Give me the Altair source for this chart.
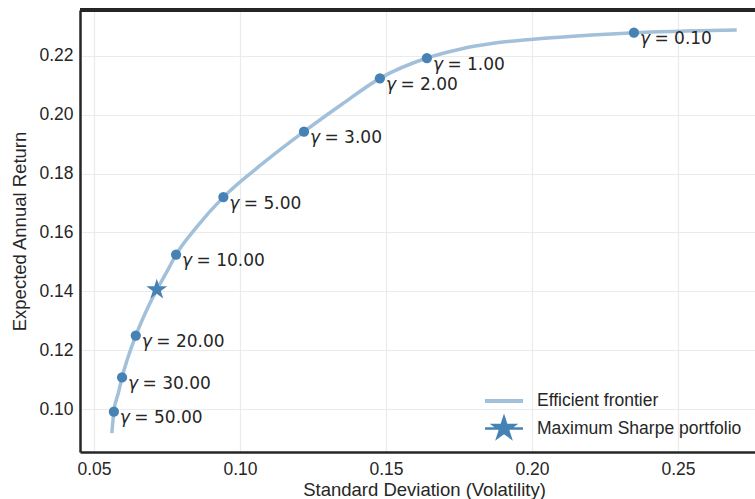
import altair as alt
import pandas as pd

# ---- data ----
frontier_sigma = [0.0561, 0.0568, 0.0583, 0.0596, 0.0643, 0.0675, 0.0715, 0.0749, 0.0781,
                  0.0852, 0.0943, 0.1080, 0.1219, 0.1349, 0.1479, 0.1640, 0.1753,
                  0.1867, 0.2004, 0.2153, 0.2349, 0.2530, 0.2701]
frontier_return = [0.0919, 0.0992, 0.1054, 0.1108, 0.1250, 0.1325, 0.1406, 0.1466, 0.1525,
                   0.1619, 0.1720, 0.1836, 0.1942, 0.2035, 0.2123, 0.2192, 0.2222,
                   0.2242, 0.2256, 0.2267, 0.2278, 0.2284, 0.2287]

gamma_values = ["50.00", "30.00", "20.00", "10.00", "5.00", "3.00", "2.00", "1.00", "0.10"]
gamma_sigma = [0.0568, 0.0596, 0.0643, 0.0781, 0.0943, 0.1219, 0.1479, 0.1640, 0.2349]
gamma_return = [0.0992, 0.1108, 0.1250, 0.1525, 0.1720, 0.1942, 0.2123, 0.2192, 0.2278]

sharpe_sigma = [0.0715]
sharpe_return = [0.1406]

legend_names = ["Efficient frontier", "Maximum Sharpe portfolio"]
x_ticks = [0.05, 0.10, 0.15, 0.20, 0.25]
y_ticks = [0.10, 0.12, 0.14, 0.16, 0.18, 0.20, 0.22]

# ---- style ----
LIGHT = "#a2c0d9"
STEEL = "#4682b4"
INK = "#262626"
STAR = ("M0,-1L0.2245,-0.309L0.951,-0.309L0.3633,0.118L0.588,0.809L0,0.382"
        "L-0.588,0.809L-0.3633,0.118L-0.951,-0.309L-0.2245,-0.309Z")
LINE_SYM = "M-1.73,0L1.73,0"
STAR_LINE_SYM = STAR + "M-1.73,0L1.73,0"

W, H = 675, 442

frontier_df = pd.DataFrame({"sigma": frontier_sigma, "ret": frontier_return})
gamma_df = pd.DataFrame({
    "sigma": gamma_sigma,
    "ret": gamma_return,
    "sym": ["γ"] * len(gamma_values),
    "rest": ["= " + g for g in gamma_values],
})
sharpe_df = pd.DataFrame({"sigma": sharpe_sigma, "ret": sharpe_return,
                          "series": [legend_names[1]]})

xs = alt.Scale(domain=[0.0452, 0.0452 + W / 2920], nice=False, zero=False)
ys = alt.Scale(domain=[0.0855, 0.2355], nice=False, zero=False)

x_axis = alt.Axis(values=x_ticks, format=".2f", title="Standard Deviation (Volatility)",
                  titleX=344)
y_axis = alt.Axis(values=y_ticks, format=".2f", title="Expected Annual Return")

X = alt.X("sigma:Q", scale=xs, axis=x_axis)
Y = alt.Y("ret:Q", scale=ys, axis=y_axis)

line = alt.Chart(frontier_df).mark_line(color=LIGHT, strokeWidth=3.5,
                                        interpolate="monotone").encode(x=X, y=Y)

dots = alt.Chart(gamma_df).mark_circle(size=105, color=STEEL, opacity=1).encode(x=X, y=Y)

labels_sym = alt.Chart(gamma_df).mark_text(
    align="left", baseline="alphabetic", dx=6, dy=11.5,
    font="DejaVu Sans", fontSize=17, fontStyle="italic", color=INK
).encode(x=X, y=Y, text="sym:N")

labels_rest = alt.Chart(gamma_df).mark_text(
    align="left", baseline="alphabetic", dx=20.5, dy=11.5,
    font="DejaVu Sans", fontSize=17, color=INK
).encode(x=X, y=Y, text="rest:N")

star = alt.Chart(sharpe_df).mark_point(shape=STAR, filled=True, size=484, color=STEEL,
                                       opacity=1).encode(x=X, y=Y)

leg = alt.Legend(title=None, orient="none", legendX=411, legendY=378, padding=0,
                 labelFont="Liberation Sans", labelFontSize=17.5, labelColor=INK,
                 labelLimit=400,
                 symbolSize=484, labelOffset=20, rowPadding=2, symbolOpacity=1)

legend_layer = alt.Chart(sharpe_df).mark_point(size=0, filled=True).encode(
    x=X, y=Y,
    fill=alt.Fill("series:N", scale=alt.Scale(domain=legend_names, range=[LIGHT, STEEL]),
                  legend=leg),
    stroke=alt.Stroke("series:N", scale=alt.Scale(domain=legend_names, range=[LIGHT, STEEL]),
                      legend=leg),
    shape=alt.Shape("series:N", scale=alt.Scale(domain=legend_names,
                                                range=[LINE_SYM, STAR_LINE_SYM]),
                    legend=leg),
    strokeWidth=alt.StrokeWidth("series:N", scale=alt.Scale(domain=legend_names, range=[4, 2.5]),
                                legend=leg),
)

top_border = alt.Chart(frontier_df).mark_rule(color=INK, strokeWidth=2.5).encode(
    x=alt.value(0), x2=alt.value(W), y=alt.value(0)
)

chart = alt.layer(line, dots, labels_sym, labels_rest, star, legend_layer, top_border).properties(
    width=W, height=H,
    autosize=alt.AutoSizeParams(type="none"),
    padding={"left": 80, "top": 10, "right": 0, "bottom": 47},
    background="white",
).configure_view(stroke=None).configure_axis(
    grid=True, gridColor="#ebebeb", gridWidth=1.2,
    domainColor=INK, domainWidth=2.5,
    ticks=False, tickSize=0,
    labelFont="Liberation Sans", labelFontSize=17.5, labelColor=INK,
    titleFont="Liberation Sans", titleFontSize=18.5, titleFontWeight="normal", titleColor=INK,
).configure_axisX(labelPadding=8, titlePadding=3).configure_axisY(labelPadding=7, titlePadding=9)

chart.save("out.html", embed_options={"renderer": "svg", "actions": False})
